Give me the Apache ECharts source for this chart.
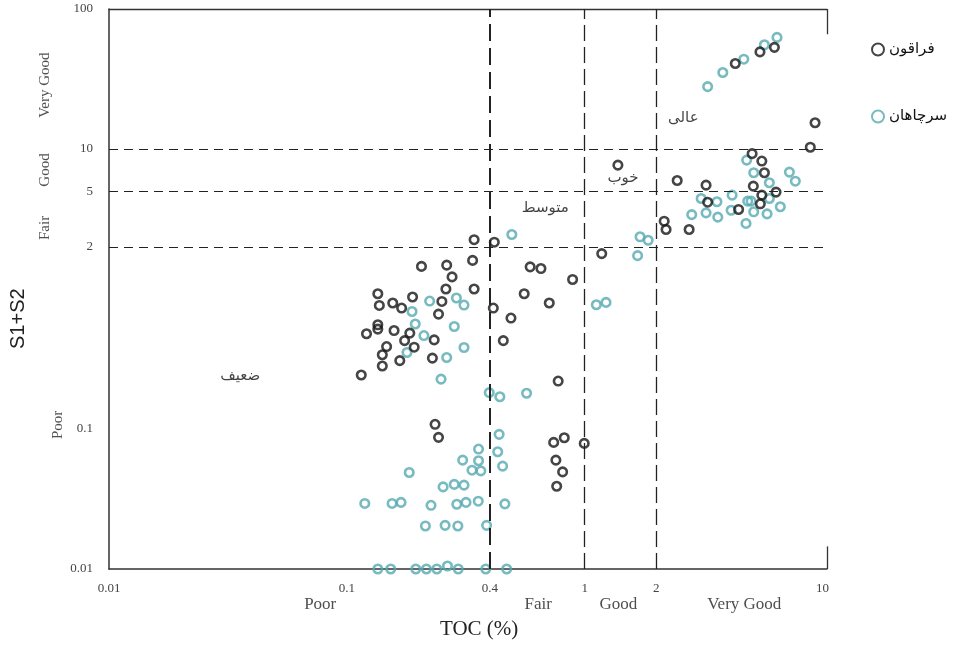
<!DOCTYPE html>
<html>
<head>
<meta charset="utf-8">
<script src="https://cdn.jsdelivr.net/npm/echarts@6/dist/echarts.min.js"></script>
<style>
  html, body { margin: 0; padding: 0; background: #fff; }
  #chart { width: 960px; height: 647px; }
</style>
</head>
<body>
<div id="chart"></div>
<script>
// Samples as [TOC (%), S1+S2 (mg HC/g rock)]
const faraghun = [
  [0.343, 2.25], [0.417, 2.16], [0.338, 1.60], [0.206, 1.45], [0.263, 1.48], [0.277, 1.22],
  [0.261, 1.00], [0.343, 1.00], [0.590, 1.44], [0.655, 1.40], [0.890, 1.17], [1.18, 1.79],
  [0.557, 0.925], [0.710, 0.794], [0.135, 0.925], [0.189, 0.877], [0.137, 0.763], [0.156, 0.794],
  [0.170, 0.731], [0.251, 0.815], [0.243, 0.662], [0.413, 0.731], [0.490, 0.620], [0.135, 0.555],
  [0.135, 0.517], [0.121, 0.479], [0.158, 0.505], [0.184, 0.484], [0.175, 0.428], [0.233, 0.433],
  [0.192, 0.384], [0.147, 0.388], [0.141, 0.339], [0.167, 0.308], [0.141, 0.282], [0.229, 0.321],
  [0.455, 0.428], [0.115, 0.243], [0.774, 0.220], [0.235, 0.108], [0.243, 0.0872], [0.741, 0.0802],
  [0.821, 0.0866], [0.996, 0.0789], [0.757, 0.0599], [0.808, 0.0494], [0.763, 0.039],
  [4.30, 40.8], [5.46, 49.4], [6.28, 53.2], [9.31, 15.4], [8.89, 10.3], [1.38, 7.67],
  [2.45, 5.96], [3.24, 5.52], [5.06, 9.26], [5.56, 8.20], [5.70, 6.77], [5.12, 5.43],
  [5.56, 4.68], [6.38, 4.92], [3.29, 4.17], [4.44, 3.70], [5.48, 4.06], [2.16, 3.05],
  [2.20, 2.66], [2.75, 2.66]
];

const sarchahan = [
  [0.494, 2.45], [0.223, 0.820], [0.289, 0.862], [0.311, 0.768], [0.188, 0.691], [0.194, 0.562],
  [0.283, 0.540], [0.211, 0.465], [0.179, 0.352], [0.311, 0.382], [0.263, 0.324], [0.249, 0.227],
  [0.397, 0.182], [0.440, 0.170], [0.570, 0.180], [1.12, 0.772], [1.23, 0.802],
  [0.437, 0.0916], [0.358, 0.0719], [0.431, 0.0688], [0.307, 0.0599], [0.358, 0.0593],
  [0.452, 0.0543], [0.336, 0.0508], [0.366, 0.0502], [0.183, 0.0489], [0.254, 0.0386],
  [0.283, 0.0402], [0.311, 0.0397], [0.119, 0.0294], [0.155, 0.0294], [0.169, 0.0299],
  [0.226, 0.0285], [0.290, 0.029], [0.317, 0.0299], [0.357, 0.0305], [0.462, 0.0292],
  [0.214, 0.0203], [0.259, 0.0205], [0.293, 0.0203], [0.387, 0.0205],
  [0.135, 0.01], [0.153, 0.01], [0.195, 0.01], [0.216, 0.01], [0.239, 0.01], [0.265, 0.0105],
  [0.294, 0.01], [0.384, 0.01], [0.470, 0.01],
  [6.44, 62.7], [5.70, 55.5], [4.67, 43.8], [3.81, 35.2], [3.29, 27.9],
  [4.80, 8.33], [5.14, 6.77], [5.98, 5.74], [7.26, 6.84], [7.69, 5.89],
  [3.09, 4.43], [3.60, 4.20], [4.17, 4.68], [4.85, 4.24], [5.01, 4.24], [5.98, 4.43],
  [2.82, 3.40], [3.24, 3.50], [3.63, 3.26], [4.13, 3.65], [5.14, 3.56], [5.85, 3.44],
  [6.65, 3.87], [4.77, 2.94], [1.71, 2.36], [1.85, 2.23], [1.67, 1.73]
];

const seriesNames = ['فراقون', 'سرچاهان'];

// Axis ticks
const xTickValues = [0.01, 0.1, 0.4, 1, 2, 10];
const xTickLabels = ['0.01', '0.1', '0.4', '1', '2', '10'];
const yTickValues = [0.01, 0.1, 2, 5, 10, 100];
const yTickLabels = ['0.01', '0.1', '2', '5', '10', '100'];

// Class boundaries
const tocLimits = [0.4, 1, 2];
const s1s2Limits = [2, 5, 10];

// Axis ranges
const xRange = [0.01, 10.45];
const yRange = [0.01, 100];

// Class names in Persian, anchored at [TOC, S1+S2]
const zoneNames = ['عالی', 'خوب', 'متوسط', 'ضعیف'];
const zoneAnchors = [[2.6, 16.6], [1.45, 6.2], [0.683, 3.79], [0.0356, 0.239]];

// Class names along the TOC axis (anchored at TOC value)
const xClassNames = ['Poor', 'Fair', 'Good', 'Very Good'];
const xClassAnchors = [0.0773, 0.638, 1.385, 4.69];

// Class names along the S1+S2 axis (anchored at S1+S2 value)
const yClassNames = ['Very Good', 'Good', 'Fair', 'Poor'];
const yClassAnchors = [28.6, 7.08, 2.73, 0.107];

const BLACK = '#161616';
const TEAL = '#55aab2';
const SERIF = '"Liberation Serif", "DejaVu Serif", serif';
const PERSIAN = '"DejaVu Sans", sans-serif';

function tickLabel(values, labels) {
  return function (v) {
    let best = 0, bestD = Infinity;
    values.forEach(function (t, i) {
      const d = Math.abs(Math.log10(v) - Math.log10(t));
      if (d < bestD) { bestD = d; best = i; }
    });
    return labels[best];
  };
}

const chart = echarts.init(document.getElementById('chart'), null, { renderer: 'canvas' });

const dashed = function (width, dash) {
  return { color: '#222', width: width, type: dash };
};

const markLines = [];
tocLimits.forEach(function (t, i) {
  markLines.push([
    { coord: [t, yRange[0]], lineStyle: dashed(i === 0 ? 2 : 1.3, i === 0 ? [17, 7] : [16, 6]) },
    { coord: [t, yRange[1]] }
  ]);
});
s1s2Limits.forEach(function (s) {
  markLines.push([
    { coord: [xRange[0], s], lineStyle: dashed(1.1, [9, 6]) },
    { coord: [xRange[1], s] }
  ]);
});
// short pieces of the right-hand frame
markLines.push([
  { coord: [xRange[1], 100], lineStyle: { color: '#333', width: 1.3, type: 'solid' } },
  { coord: [xRange[1], 66] }
]);
markLines.push([
  { coord: [xRange[1], 0.01], lineStyle: { color: '#333', width: 1.3, type: 'solid' } },
  { coord: [xRange[1], 0.0145] }
]);

const option = {
  animation: false,
  backgroundColor: '#fff',
  grid: { left: 109, top: 9, width: 718, height: 560, containLabel: false },
  legend: {
    data: seriesNames,
    orient: 'vertical',
    left: 866,
    top: 37,
    itemGap: 52,
    itemWidth: 12,
    itemHeight: 12,
    align: 'left',
    textStyle: { fontFamily: PERSIAN, fontSize: 15, color: '#111' }
  },
  xAxis: [
    {
      type: 'log', logBase: 10, min: xRange[0], max: xRange[1],
      axisLine: { show: true, lineStyle: { color: '#333', width: 1.5 } },
      axisTick: { show: false },
      splitLine: { show: false },
      axisLabel: {
        customValues: xTickValues,
        formatter: tickLabel(xTickValues, xTickLabels),
        fontFamily: SERIF, fontSize: 13, color: '#444', margin: 13
      }
    },
    {
      type: 'log', logBase: 10, min: xRange[0], max: xRange[1], position: 'top',
      axisLine: { show: true, lineStyle: { color: '#333', width: 1.3 } },
      axisTick: { show: false }, axisLabel: { show: false }, splitLine: { show: false }
    }
  ],
  yAxis: {
    type: 'log', logBase: 10, min: yRange[0], max: yRange[1],
    axisLine: { show: true, lineStyle: { color: '#333', width: 1.5 } },
    axisTick: { show: false },
    splitLine: { show: false },
    axisLabel: {
      customValues: yTickValues,
      formatter: tickLabel(yTickValues, yTickLabels),
      fontFamily: SERIF, fontSize: 13, color: '#444', margin: 16
    }
  },
  graphic: [
    {
      type: 'text', left: 440, top: 619,
      style: { text: 'TOC (%)', font: '21px ' + SERIF, fill: '#222' }
    },
    {
      type: 'text', x: 8, y: 349, rotation: Math.PI / 2,
      style: { text: 'S1+S2', font: '20px "Liberation Sans", Arial, sans-serif', fill: '#222' }
    }
  ],
  series: [
    {
      name: seriesNames[0],
      type: 'scatter',
      z: 4,
      clip: false,
      symbol: 'circle',
      symbolSize: 8.5,
      itemStyle: { color: 'rgba(255,255,255,0)', borderColor: BLACK, borderWidth: 2.6 },
      data: faraghun
    },
    {
      name: seriesNames[1],
      type: 'scatter',
      z: 3,
      clip: false,
      symbol: 'circle',
      symbolSize: 8.5,
      itemStyle: { color: 'rgba(255,255,255,0)', borderColor: TEAL, borderWidth: 2.6 },
      data: sarchahan
    },
    {
      // class names inside the plot, plus the boundary lines
      name: 'zones',
      type: 'scatter',
      z: 2,
      silent: true,
      clip: false,
      symbolSize: 0,
      data: zoneNames.map(function (n, i) { return { name: n, value: zoneAnchors[i] }; }),
      label: {
        show: true, position: 'inside', formatter: '{b}',
        fontFamily: PERSIAN, fontSize: 15, color: '#111'
      },
      markLine: {
        silent: true, symbol: 'none', label: { show: false },
        animation: false,
        data: markLines
      }
    },
    {
      name: 'tocClasses',
      type: 'scatter',
      silent: true,
      clip: false,
      symbolSize: 0,
      data: xClassNames.map(function (n, i) { return { name: n, value: [xClassAnchors[i], yRange[0]] }; }),
      label: {
        show: true, position: 'inside', offset: [0, 36], formatter: '{b}',
        fontFamily: SERIF, fontSize: 17, color: '#222'
      }
    },
    {
      // rotated labels: the offset is given in the label's own (rotated) frame
      name: 's1s2Classes',
      type: 'scatter',
      silent: true,
      clip: false,
      symbolSize: 0,
      data: yClassNames.map(function (n, i) {
        return {
          name: n, value: [xRange[0], yClassAnchors[i]],
          label: { offset: [0, i === 3 ? -51 : -64] }
        };
      }),
      label: {
        show: true, position: 'inside', rotate: 90, formatter: '{b}',
        fontFamily: SERIF, fontSize: 15, color: '#222'
      }
    }
  ]
};

chart.setOption(option);
</script>
</body>
</html>
